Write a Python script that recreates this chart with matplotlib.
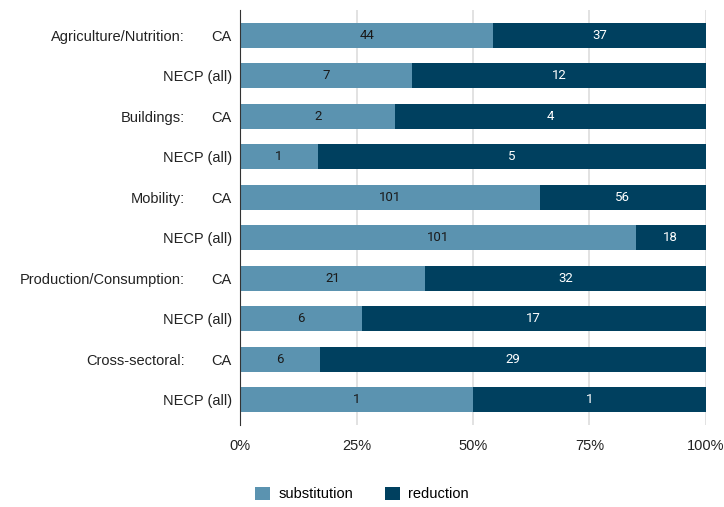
import matplotlib.pyplot as plt
import numpy as np

# ==========================================================
# Data
# ==========================================================

categories = [
    "Agriculture/Nutrition:", "", "Buildings:", "", "Mobility:", "",
    "Production/Consumption:", "", "Cross-sectoral:", ""
]
sources = ["CA", "NECP (all)"] * 5
substitution = [44, 7, 2, 1, 101, 101, 21, 6, 6, 1]
reduction = [37, 12, 4, 5, 56, 18, 32, 17, 29, 1]
tick_labels = ["0%", "25%", "50%", "75%", "100%"]

LIGHT = "#5b93b0"
DARK = "#00405f"

plt.rcParams["font.family"] = ["Liberation Sans", "DejaVu Sans"]

fig = plt.figure(figsize=(7.24, 5.07), dpi=100)
ax = fig.add_axes([240 / 724, 1 - 425 / 507, 466 / 724, 415 / 507])

sub = np.array(substitution, dtype=float)
red = np.array(reduction, dtype=float)
total = sub + red
sub_share = sub / total
red_share = red / total
y = np.arange(len(sub))

ax.barh(y, sub_share, height=0.62, color=LIGHT, label="substitution", zorder=2)
ax.barh(y, red_share, left=sub_share, height=0.62, color=DARK,
        label="reduction", zorder=2)

for i in range(len(y)):
    ax.text(sub_share[i] / 2, y[i], str(substitution[i]), ha="center",
            va="center", fontsize=9.5, color="#1a1a1a", family="Roboto")
    ax.text(sub_share[i] + red_share[i] / 2, y[i], str(reduction[i]),
            ha="center", va="center", fontsize=9.5, color="white",
            family="Roboto")

ax.set_xlim(0, 1)
ax.set_ylim(len(y) - 1 + 0.62, -0.62)
ax.set_xticks(np.linspace(0, 1, 5))
ax.set_xticklabels(tick_labels, fontsize=10.5, color="#222222")
ax.set_yticks(y)
ax.set_yticklabels(sources, fontsize=10.5, color="#222222")
ax.tick_params(axis="both", length=0, pad=6)
ax.tick_params(axis="x", pad=10)

for i, cat in enumerate(categories):
    if cat:
        ax.text(-0.118, y[i], cat, ha="right", va="center_baseline",
                fontsize=10.5, color="#222222",
                transform=ax.get_yaxis_transform())

ax.grid(axis="x", color="#dddddd", linewidth=1.2, zorder=0)
for side in ["top", "right", "bottom"]:
    ax.spines[side].set_visible(False)
ax.spines["left"].set_color("#333333")
ax.spines["left"].set_zorder(3)

fig.legend(loc="lower center", bbox_to_anchor=(0.5, -0.015), ncol=2,
           frameon=False, fontsize=10.5, handlelength=1.0, handleheight=1.0,
           columnspacing=2.2, handletextpad=0.6)

fig.savefig("out.png", dpi=100)
